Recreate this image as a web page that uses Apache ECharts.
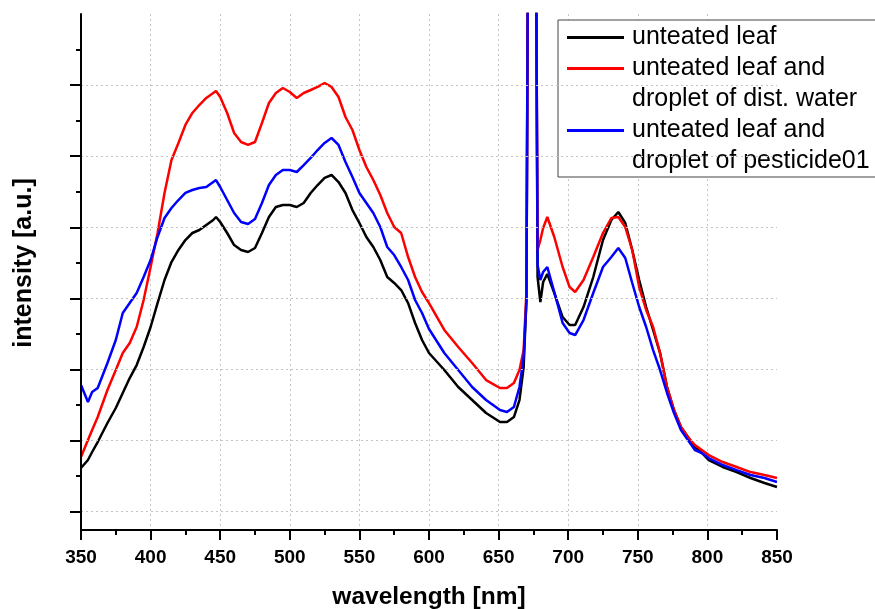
<!DOCTYPE html>
<html><head><meta charset="utf-8">
<script src="https://cdn.jsdelivr.net/npm/echarts@6/dist/echarts.min.js"></script>
<style>html,body{margin:0;padding:0;background:#fff}#c{width:875px;height:609px}</style>
</head><body><div id="c"></div>
<script>
const wavelengths = [350,355,358,362,369,375,380,385,390,395,400,405,410,415,420,425,430,435,440,445,447,450,455,460,465,470,475,480,485,490,495,500,505,510,515,520,525,530,535,540,545,550,555,560,565,570,575,580,585,590,595,600,611,621,631,641,651,656,661,665,668,670,671,672,674,676,677,678,680,682,685,690,696,701,705,711,718,725,731,736,741,746,751,756,761,766,771,776,781,786,791,796,801,811,821,831,841,850];
const leaf = [615,727,840,980,1248,1459,1670,1880,2063,2317,2598,2935,3259,3512,3681,3821,3920,3962,4032,4103,4145,4075,3920,3751,3681,3653,3709,3920,4145,4286,4314,4314,4286,4342,4483,4595,4694,4736,4637,4483,4243,4061,3864,3723,3540,3301,3217,3118,2935,2654,2415,2232,1993,1754,1571,1388,1262,1262,1332,1571,2035,2978,7500,11000,12500,11000,7500,3301,2949,3231,3343,3076,2738,2626,2626,2879,3301,3821,4103,4215,4061,3681,3259,2879,2556,2232,1754,1430,1191,1051,910,826,727,629,558,474,404,347];
const leafWater = [769,1008,1149,1332,1712,1993,2232,2373,2598,2978,3442,3920,4483,4947,5186,5439,5608,5720,5819,5889,5917,5833,5608,5326,5200,5158,5200,5467,5748,5889,5959,5903,5819,5889,5931,5974,6030,5974,5833,5551,5369,5087,4848,4665,4454,4201,4004,3920,3582,3301,3090,2935,2556,2317,2091,1852,1740,1740,1810,1993,2274,3100,7800,11500,13000,11500,7800,3681,3821,3990,4145,3864,3442,3160,3090,3259,3582,3920,4131,4145,4004,3681,3160,2837,2598,2232,1754,1430,1191,1051,938,868,797,699,629,558,516,474];
const leafPesticide = [1782,1543,1684,1740,2091,2415,2795,2935,3076,3301,3540,3864,4131,4272,4384,4483,4525,4553,4567,4637,4665,4567,4384,4201,4075,4047,4117,4342,4595,4736,4806,4806,4778,4876,4975,5087,5186,5256,5158,4919,4708,4483,4342,4201,4004,3723,3610,3442,3259,2978,2795,2570,2232,1993,1754,1571,1430,1402,1473,1754,2176,2978,7700,11200,12800,11200,7700,3470,3259,3371,3442,3090,2654,2513,2485,2696,3076,3442,3582,3709,3568,3217,2879,2598,2274,1993,1670,1388,1149,1008,868,826,755,657,586,516,474,418];
const seriesNames = ['unteated leaf', 'unteated leaf and\ndroplet of dist. water', 'unteated leaf and\ndroplet of pesticide01'];
const seriesColors = ['#000000', '#ff0000', '#0000ff'];
const xGridValues = [400,450,500,550,600,650,700,750,800];
const yMajorTicks = [0,1000,2000,3000,4000,5000,6000];
const yMinorTicks = [500,1500,2500,3500,4500,5500,6500];

const FONT = 'Liberation Sans, Arial, sans-serif';
const gridLine = {show: true, lineStyle: {color: '#c4c4c4', width: 1, type: [2, 3]}};
const toPairs = arr => wavelengths.map((w, i) => [w, arr[i]]);
const allData = [leaf, leafWater, leafPesticide];

const chart = echarts.init(document.getElementById('c'), null, {renderer: 'canvas'});
chart.setOption({
  animation: false,
  backgroundColor: '#ffffff',
  grid: {left: 81, right: 98, top: 14, bottom: 79, containLabel: false, outerBoundsMode: 'none'},
  legend: {
    orient: 'vertical', left: 558, top: 20,
    padding: [2, 30, 0, 9],
    itemWidth: 57, itemHeight: 3, itemGap: -31, icon: 'rect',
    borderColor: '#444', borderWidth: 1, backgroundColor: '#fff',
    selectedMode: false,
    formatter: name => (name.indexOf('\n') >= 0 ? '\n' + name : name),
    textStyle: {fontFamily: FONT, fontSize: 25, lineHeight: 31, color: '#000', padding: [0, 0, 0, 3]},
    data: seriesNames
  },
  xAxis: [{
    type: 'value', min: 350, max: 850, interval: 50,
    name: 'wavelength [nm]', nameLocation: 'middle', nameGap: 55,
    nameTextStyle: {fontFamily: FONT, fontSize: 24.5, fontWeight: 'bold', color: '#000'},
    axisLine: {onZero: false, lineStyle: {color: '#000', width: 2}},
    axisTick: {length: 10, lineStyle: {color: '#000', width: 2}},
    minorTick: {show: true, splitNumber: 2, length: 5, lineStyle: {color: '#000', width: 2}},
    axisLabel: {fontFamily: FONT, fontSize: 19, fontWeight: 'bold', color: '#000', margin: 18},
    splitLine: {show: false},
    z: 5
  }, {
    type: 'value', min: 350, max: 850, position: 'bottom',
    axisLine: {show: false, onZero: false},
    axisTick: {show: false, customValues: xGridValues},
    axisLabel: {show: false, customValues: xGridValues},
    splitLine: gridLine
  }],
  yAxis: [{
    type: 'value', min: -257, max: 7000, position: 'left',
    name: 'intensity [a.u.]', nameLocation: 'middle', nameGap: 44,
    nameTextStyle: {fontFamily: FONT, fontSize: 25, fontWeight: 'bold', color: '#000', padding: [0, 0, 0, 18]},
    axisLine: {show: true, onZero: false, lineStyle: {color: '#000', width: 2}},
    axisTick: {show: true, customValues: yMajorTicks, length: 11, lineStyle: {color: '#000', width: 2}},
    axisLabel: {show: false, customValues: yMajorTicks},
    minorTick: {show: false},
    splitLine: gridLine,
    z: 5
  }, {
    type: 'value', min: -257, max: 7000, position: 'left',
    axisLine: {show: false, onZero: false},
    axisTick: {show: true, customValues: yMinorTicks, length: 5, lineStyle: {color: '#000', width: 2}},
    axisLabel: {show: false, customValues: yMinorTicks},
    splitLine: {show: false}
  }],
  series: allData.map((arr, k) => ({
    name: seriesNames[k], type: 'line', xAxisIndex: 0, yAxisIndex: 0,
    data: toPairs(arr), showSymbol: false, symbol: 'none', clip: true,
    color: seriesColors[k],
    lineStyle: {color: seriesColors[k], width: 2.5},
    z: 2 + k
  }))
});
</script></body></html>
